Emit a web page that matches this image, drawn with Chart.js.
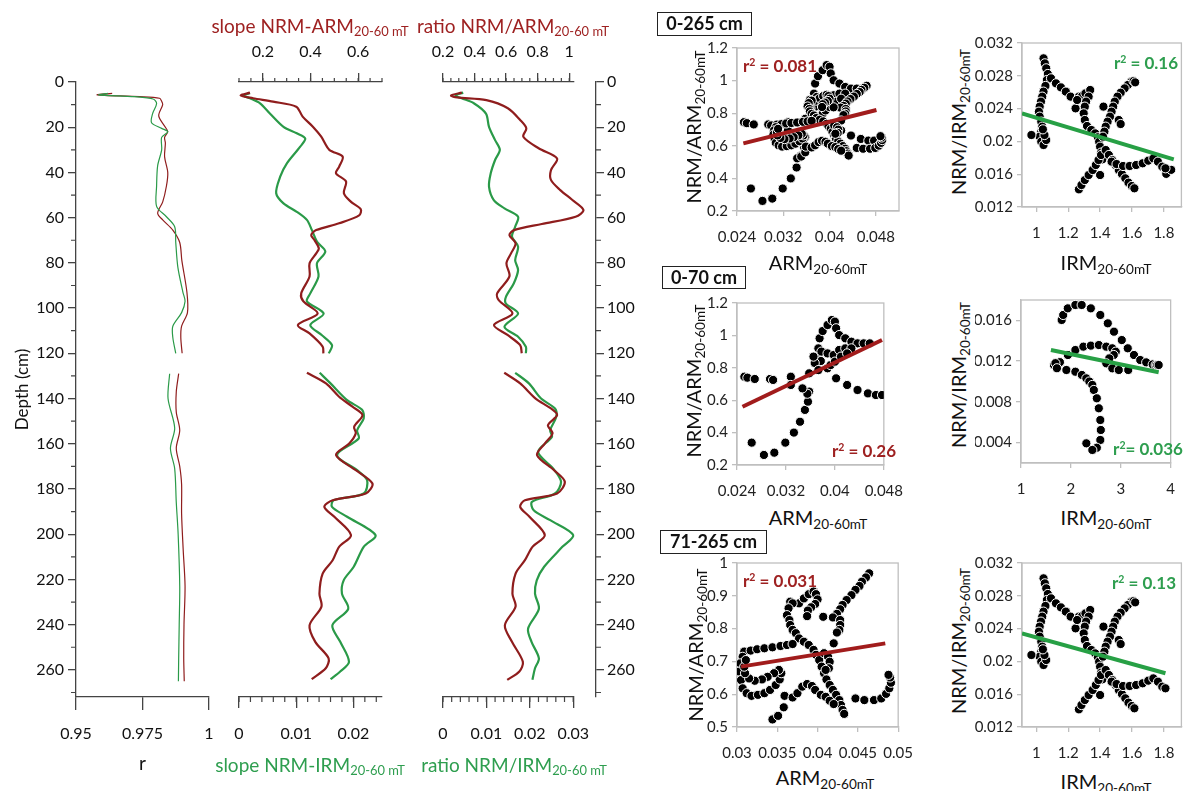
<!DOCTYPE html>
<html>
<head>
<meta charset="utf-8">
<title>NRM/ARM and NRM/IRM profiles</title>
<script src="https://cdn.jsdelivr.net/npm/chart.js@4.4.1/dist/chart.umd.min.js"></script>
<style>
  body { margin: 0; background: #fff; }
  #fig { position: relative; width: 1187px; height: 791px; overflow: hidden;
         font-family: Lato, "Open Sans", sans-serif; color: #111; }
  #fig canvas { position: absolute; }
  .lbl { position: absolute; transform: translate(-50%, -50%); white-space: nowrap; line-height: 1; }
  .lbl.rot { transform: translate(-50%, -50%) rotate(-90deg); }
  .lbl sub { font-size: 0.68em; vertical-align: -0.3em; line-height: 0; }
  .lbl sup { font-size: 0.62em; vertical-align: 0.55em; line-height: 0; }
  .red { color: #9e2121; }
  .green { color: #2e9e4f; }
  .bold { font-weight: bold; }
  .box { position: absolute; border: 1.3px solid #222; font-weight: bold; font-size: 18px;
         text-align: center; box-sizing: border-box; }
</style>
</head>
<body>
<div id="fig"></div>
<script>
// depth profiles, depth in cm (null = break in the core)
const rArmDepth = [5, 5.7, 6.5, 7.2, 8.5, 10, 15, 20, 22, 24.5, 27, 33, 40, 46, 53, 58, 61, 65.5, 71, 79, 93, 102, 108, 113, 120, null, 129, 137, 146, 154, 162, 170, 178, 191, 207, 223, 240, 255, 265];
const rArmVal = [0.9636, 0.958, 0.9739, 0.9814, 0.9822, 0.9826, 0.9811, 0.9836, 0.9845, 0.9833, 0.9836, 0.9833, 0.9845, 0.984, 0.9826, 0.9807, 0.9826, 0.9864, 0.989, 0.9898, 0.9917, 0.9919, 0.9897, 0.9894, 0.9899, null, 0.9886, 0.9877, 0.9877, 0.989, 0.9877, 0.989, 0.9897, 0.9897, 0.9903, 0.991, 0.9906, 0.9905, 0.9907];
const rIrmDepth = [5, 5.7, 6.5, 7.5, 9.5, 14, 18, 20.5, 22, 24.5, 30, 37, 46, 55, 59.6, 64, 71, 82, 93, 97, 102, 108, 113, 120, null, 129, 140, 153, 162, 171, 186, 200, 223, 240, 255, 265];
const rIrmVal = [0.962, 0.9585, 0.972, 0.979, 0.9803, 0.9788, 0.9784, 0.9822, 0.9845, 0.9822, 0.9822, 0.9807, 0.9803, 0.9803, 0.984, 0.9871, 0.9875, 0.9883, 0.9902, 0.991, 0.9897, 0.9864, 0.9864, 0.9875, null, 0.9852, 0.9846, 0.9871, 0.9855, 0.9871, 0.9877, 0.9884, 0.989, 0.9888, 0.9886, 0.9885];

const slopeArmDepth = [4.7, 6, 7.2, 8.7, 10.9, 15.3, 19.8, 24.2, 30, 33, 37.5, 40.4, 44, 49.2, 53, 56.3, 59, 62.5, 65.5, 67.7, 70, 73.6, 75.8, 80.2, 86, 93.5, 97, 102.4, 107.5, 111.2, 117, 120, null, 128.6, 133.3, 139.2, 143.6, 147.3, 152.5, 155.4, 159.9, 165, 171.7, 177.6, 182, 185, 187.9, 192.3, 200.4, 205.6, 211.5, 217.4, 226.3, 232, 240.3, 247.6, 254.9, 259.3, 264.1];
const slopeArmVal = [0.146, 0.107, 0.159, 0.243, 0.34, 0.367, 0.41, 0.445, 0.479, 0.535, 0.52, 0.507, 0.549, 0.54, 0.57, 0.611, 0.604, 0.52, 0.424, 0.403, 0.417, 0.435, 0.424, 0.396, 0.396, 0.361, 0.37, 0.43, 0.347, 0.396, 0.451, 0.454, null, 0.385, 0.465, 0.52, 0.576, 0.618, 0.583, 0.59, 0.5625, 0.507, 0.59, 0.66, 0.632, 0.493, 0.458, 0.5, 0.57, 0.52, 0.493, 0.451, 0.4375, 0.446, 0.396, 0.42, 0.476, 0.464, 0.405];
const slopeIrmDepth = [5, 6, 7.2, 9.4, 14, 19.8, 22.7, 25, 28.6, 36, 41.9, 49.2, 53.7, 57.4, 61, 65.5, 70.6, 75, 80.2, 86, 93.5, 97, 102.4, 107.5, 112, 116.4, 120, null, 128.6, 133.3, 140.7, 145, 148.8, 154, 157.7, 165, 171.7, 176.1, 182, 185, 187.9, 192.3, 200.4, 205.6, 214.4, 220.4, 226.3, 233, 240.3, 247.6, 256.4, 260.7, 264.1];
const slopeIrmVal = [0.00193, 0.0007, 0.00193, 0.00368, 0.00544, 0.00778, 0.0101, 0.01158, 0.0107, 0.00837, 0.0072, 0.0065, 0.00778, 0.0101, 0.01187, 0.01275, 0.01363, 0.01509, 0.01363, 0.0139, 0.01246, 0.01187, 0.0148, 0.01246, 0.0145, 0.01626, 0.0157, null, 0.0141, 0.016, 0.0189, 0.02152, 0.0218, 0.02065, 0.02093, 0.01714, 0.02065, 0.0224, 0.0218, 0.01655, 0.01626, 0.0189, 0.02386, 0.0218, 0.02006, 0.0183, 0.018, 0.0191, 0.01632, 0.0177, 0.01923, 0.0177, 0.016];

const ratioArmDepth = [4.7, 6, 6.8, 8, 11.6, 16.8, 20.5, 24.2, 29.3, 33.8, 39, 43.3, 47.8, 52.2, 56.6, 59.6, 62.8, 65.5, 67.7, 71.4, 75.8, 80.2, 86, 93.5, 96.5, 102.4, 107.5, 112, 116.4, 120, null, 128.6, 133.3, 140, 144.4, 147.3, 151.8, 155.4, 159.9, 165, 171.7, 176.8, 182, 185, 187.9, 192.3, 200.4, 205.6, 211.5, 217.4, 226.3, 232, 240.3, 247.6, 256.4, 260.7, 264.4];
const ratioArmVal = [0.319, 0.251, 0.289, 0.475, 0.611, 0.689, 0.728, 0.709, 0.806, 0.923, 0.884, 0.884, 0.943, 1.02, 1.09, 1.04, 0.826, 0.65, 0.621, 0.66, 0.631, 0.602, 0.621, 0.543, 0.553, 0.64, 0.523, 0.611, 0.689, 0.699, null, 0.588, 0.689, 0.787, 0.884, 0.923, 0.865, 0.894, 0.845, 0.796, 0.904, 0.972, 0.923, 0.719, 0.689, 0.748, 0.845, 0.767, 0.719, 0.66, 0.64, 0.66, 0.592, 0.637, 0.706, 0.684, 0.607];
const ratioIrmDepth = [4.7, 6, 7.2, 9.4, 14, 19.8, 25.7, 30, 34.5, 40.4, 46.3, 52.2, 55.9, 59.6, 64, 68.4, 72.8, 78.8, 83.2, 89.1, 95, 98, 102.4, 108.3, 112.7, 117.1, 120, null, 128.6, 133.3, 140, 144.4, 148.1, 154, 157, 163.6, 171, 176.8, 182, 185.7, 189.4, 193.8, 200.4, 205.6, 214.4, 220.4, 226.3, 233, 241.8, 247.6, 254.9, 259.3, 264.4];
const ratioIrmVal = [0.00465, 0.0029, 0.0043, 0.0071, 0.0099, 0.0106, 0.012, 0.0131, 0.012, 0.011, 0.0106, 0.0117, 0.01416, 0.0173, 0.01663, 0.0159, 0.0173, 0.01663, 0.0173, 0.0163, 0.0145, 0.0145, 0.0173, 0.01416, 0.0173, 0.0191, 0.0191, null, 0.01663, 0.0198, 0.0226, 0.0258, 0.0261, 0.0247, 0.0251, 0.0219, 0.0254, 0.0272, 0.0258, 0.0205, 0.0209, 0.0247, 0.03, 0.0275, 0.0233, 0.0216, 0.0212, 0.0221, 0.0196, 0.0204, 0.0221, 0.0212, 0.0206];

// scatter points [ARM, NRM/ARM] and [IRM, NRM/IRM]
const arm0to70 = [[0.0252,0.745],[0.0257,0.739],[0.0269,0.731],[0.0294,0.731],[0.0299,0.725],[0.0264,0.338],[0.0284,0.262],[0.0301,0.276],[0.0319,0.338],[0.0333,0.400],[0.0343,0.467],[0.0351,0.540],[0.0356,0.591],[0.0358,0.653],[0.0355,0.640],[0.0328,0.745],[0.0328,0.694],[0.0347,0.673],[0.0358,0.766],[0.0370,0.838],[0.0373,0.858],[0.0377,0.842],[0.0367,0.830],[0.0373,0.920],[0.0375,0.982],[0.0380,1.027],[0.0388,1.064],[0.0395,1.095],[0.0400,1.085],[0.0402,1.044],[0.0407,1.002],[0.0417,0.982],[0.0427,0.961],[0.0437,0.951],[0.0447,0.951],[0.0457,0.951],[0.0378,0.900],[0.0388,0.889],[0.0398,0.879],[0.0407,0.910],[0.0417,0.920],[0.0427,0.920],[0.0388,0.797],[0.0393,0.817],[0.0400,0.838],[0.0410,0.869],[0.0420,0.889],[0.0373,0.786],[0.0365,0.869],[0.0402,0.735],[0.0420,0.694],[0.0437,0.663],[0.0454,0.642],[0.0467,0.632],[0.0477,0.632]];
const arm71to265 = [[0.0464,0.9685],[0.0460,0.956],[0.0455,0.943],[0.0452,0.930],[0.0447,0.918],[0.0442,0.902],[0.0436,0.887],[0.0431,0.872],[0.0428,0.859],[0.0424,0.845],[0.0419,0.834],[0.0428,0.826],[0.0428,0.811],[0.0427,0.796],[0.0424,0.788],[0.0420,0.755],[0.0407,0.836],
  [0.0377,0.877],[0.0383,0.892],[0.0389,0.905],[0.0395,0.913],[0.0398,0.905],[0.0400,0.889],[0.0397,0.875],[0.0392,0.865],[0.0388,0.855],[0.0387,0.838],
  [0.0366,0.882],[0.0369,0.877],[0.0364,0.862],[0.0362,0.841],[0.0365,0.826],[0.0366,0.811],[0.0369,0.796],
  [0.0373,0.786],[0.0377,0.770],[0.0383,0.760],[0.0389,0.750],[0.0395,0.735],[0.0398,0.720],[0.0402,0.704],[0.0405,0.684],[0.0408,0.664],[0.0411,0.645],[0.0415,0.628],[0.0419,0.613],[0.0423,0.598],[0.0427,0.582],[0.0429,0.567],[0.0431,0.552],[0.0433,0.540],
  [0.0408,0.725],[0.0413,0.714],[0.0415,0.699],[0.0414,0.679],[0.0410,0.674],
  [0.0309,0.730],[0.0317,0.733],[0.0325,0.737],[0.0334,0.740],[0.0344,0.743],[0.0354,0.747],[0.0362,0.750],[0.0369,0.753],
  [0.0307,0.714],[0.0304,0.694],[0.0303,0.669],[0.0305,0.643],[0.0307,0.618],[0.0312,0.603],[0.0318,0.595],[0.0326,0.598],[0.0334,0.603],[0.0341,0.613],[0.0348,0.628],[0.0353,0.645],[0.0355,0.664],[0.0352,0.674],[0.0346,0.664],[0.0338,0.653],[0.0331,0.645],[0.0322,0.641],[0.0315,0.648],[0.0310,0.664],[0.0309,0.684],[0.0311,0.704],
  [0.0344,0.523],[0.0351,0.534],[0.0358,0.560],
  [0.0359,0.595],[0.0369,0.590],[0.0375,0.603],[0.0381,0.623],[0.0387,0.631],[0.0393,0.625],[0.0397,0.613],[0.0404,0.598],[0.0410,0.592],[0.0415,0.580],[0.0420,0.570],
  [0.0447,0.587],[0.0458,0.582],[0.0470,0.582],[0.0479,0.587],[0.0485,0.601],[0.0489,0.618],[0.0491,0.635],[0.0490,0.651],[0.0488,0.659]];
const irm0to70 = [[1.815,0.01604],[1.846,0.01653],[1.938,0.01718],[2.09,0.01751],[2.216,0.01751],[2.4,0.01718],[2.59,0.01653],[2.74,0.01571],[2.864,0.01489],[3.02,0.01407],[3.14,0.01326],[3.265,0.0126],[3.39,0.01211],[3.51,0.01188],[3.64,0.01168],[3.7,0.01162],[3.73,0.01162],[3.76,0.01162],[1.66,0.01162],[1.78,0.0119],[1.94,0.0126],[2.09,0.01309],[2.25,0.01342],[2.4,0.01352],[2.56,0.01358],[2.71,0.01342],[2.83,0.01326],[2.9,0.01293],[2.86,0.0126],[2.77,0.01227],[2.71,0.01178],[2.83,0.01129],[2.96,0.01113],[3.15,0.01113],[1.69,0.0118],[1.72,0.0113],[1.91,0.01113],[2.09,0.01096],[2.22,0.01064],[2.31,0.01031],[2.37,0.01],[2.43,0.00966],[2.46,0.00917],[2.52,0.00835],[2.56,0.00737],[2.59,0.00622],[2.6,0.00524],[2.59,0.00426],[2.52,0.0035],[2.43,0.00328],[2.31,0.00393]];
const irm71to265 = [[1.045,0.03013],[1.053,0.02952],[1.062,0.02891],[1.072,0.02822],[1.066,0.02749],[1.057,0.02676],[1.045,0.02607],[1.037,0.02546],[1.029,0.02485],[1.021,0.02424],[1.016,0.02363],[1.021,0.02302],[1.031,0.02241],[1.037,0.0218],[1.031,0.02119],[1.021,0.02058],[1.031,0.01997],[1.045,0.01956],[1.062,0.02017],[1.051,0.02078],[1.041,0.02147],[0.969,0.02078],
  [1.092,0.02769],[1.123,0.02708],[1.154,0.02659],[1.185,0.02607],[1.215,0.02546],[1.246,0.02403],
  [1.267,0.02546],[1.287,0.02554],[1.308,0.02586],[1.338,0.02627],[1.328,0.02546],[1.312,0.02485],[1.304,0.02424],[1.297,0.02342],[1.304,0.02261],[1.318,0.02188],[1.345,0.02139],[1.369,0.02098],[1.386,0.0205],[1.394,0.01997],[1.4,0.01936],[1.406,0.01863],[1.414,0.01781],[1.256,0.02505],
  [1.595,0.02728],[1.574,0.02688],[1.554,0.02647],[1.529,0.02594],[1.509,0.02546],[1.492,0.02485],[1.482,0.02424],[1.472,0.02363],[1.462,0.02302],[1.447,0.02241],[1.435,0.0218],[1.427,0.02119],[1.418,0.02058],[1.61,0.02735],[1.62,0.0272],
  [1.517,0.02261],[1.529,0.02212],[1.421,0.02424],
  [1.267,0.01415],[1.283,0.01468],[1.304,0.01529],[1.328,0.0159],[1.353,0.01651],[1.373,0.01712],[1.39,0.01773],[1.406,0.01834],[1.4,0.0159],
  [1.435,0.01895],[1.455,0.01834],[1.476,0.01773],[1.497,0.01712],[1.517,0.01651],[1.537,0.01602],[1.558,0.0155],[1.578,0.01497],[1.599,0.01456],[1.615,0.01428],
  [1.472,0.01753],[1.503,0.01724],[1.544,0.017],[1.585,0.017],[1.626,0.01712],[1.667,0.01733],[1.702,0.01765],[1.734,0.01793],[1.763,0.01753],[1.79,0.01692],[1.81,0.01672]];
const arm0to265 = arm0to70.concat(arm71to265);
const irm0to265 = irm0to70.concat(irm71to265);

// regression lines as drawn (end points)
const fitArm0to265 = [[0.0251, 0.615], [0.0481, 0.82]];
const fitArm0to70 = [[0.0249, 0.56], [0.0477, 0.972]];
const fitArm71to265 = [[0.0305, 0.684], [0.0484, 0.755]];
const fitIrm0to265 = [[0.91, 0.0234], [1.862, 0.01781]];
const fitIrm0to70 = [[1.6, 0.01309], [3.76, 0.0109]];
const fitIrm71to265 = [[0.91, 0.0234], [1.81, 0.01855]];

// tick labels
const depthTicks = [0, 20, 40, 60, 80, 100, 120, 140, 160, 180, 200, 220, 240, 260];
const rTicks = [0.95, 0.975, 1];
const slopeArmTicks = [0.2, 0.4, 0.6];
const slopeIrmTicks = [0, 0.01, 0.02];
const ratioArmTicks = [0.2, 0.4, 0.6, 0.8, 1];
const ratioIrmTicks = [0, 0.01, 0.02, 0.03];
const armTicksA = [0.024, 0.032, 0.04, 0.048];
const armTicksB = [0.03, 0.035, 0.04, 0.045, 0.05];
const nrmArmTicksA = [0.2, 0.4, 0.6, 0.8, 1, 1.2];
const nrmArmTicksB = [0.5, 0.6, 0.7, 0.8, 0.9, 1];
const irmTicksA = [1, 1.2, 1.4, 1.6, 1.8];
const irmTicksB = [1, 2, 3, 4];
const nrmIrmTicksA = [0.012, 0.016, 0.02, 0.024, 0.028, 0.032];
const nrmIrmTicksB = [0.004, 0.008, 0.012, 0.016];

const RED = '#8f1d1d', GREEN = '#2a9a48', AXIS = '#444', FRAME = '#bfbfbf';
const LINE_RED = '#a11c1c', LINE_GREEN = '#27a045';

Chart.defaults.font.family = 'Lato, "Open Sans", sans-serif';
Chart.defaults.color = '#111';

const fig = document.getElementById('fig');
function canvasAt(x0, y0, x1, y1) {
  const c = document.createElement('canvas');
  c.width = x1 - x0; c.height = y1 - y0;
  c.style.left = x0 + 'px'; c.style.top = y0 + 'px';
  c.style.width = (x1 - x0) + 'px'; c.style.height = (y1 - y0) + 'px';
  fig.appendChild(c);
  return c;
}
const fmt = v => String(+Number(v).toFixed(4));
const setTicks = vals => scale => { scale.ticks = vals.map(v => ({ value: v })); };
const fixW = w => scale => { scale.width = w; };
const fixH = h => scale => { scale.height = h; };

// short unlabeled ticks between the labeled ones
function minorTicks(list) {
  return {
    id: 'minorTicks',
    afterDraw(chart) {
      const ctx = chart.ctx;
      ctx.save();
      ctx.strokeStyle = AXIS; ctx.lineWidth = 1.2;
      ctx.beginPath();
      list.forEach(m => {
        const s = chart.scales[m.id];
        const n = Math.round((m.to - m.from) / m.step);
        for (let i = 0; i <= n; i++) {
          const p = s.getPixelForValue(m.from + i * m.step);
          if (s.position === 'top') { ctx.moveTo(p, s.bottom); ctx.lineTo(p, s.bottom - m.len); }
          else if (s.position === 'bottom') { ctx.moveTo(p, s.top); ctx.lineTo(p, s.top + m.len); }
          else if (s.position === 'left') { ctx.moveTo(s.right, p); ctx.lineTo(s.right - m.len, p); }
          else { ctx.moveTo(s.left, p); ctx.lineTo(s.left + m.len, p); }
        }
      });
      ctx.stroke();
      ctx.restore();
    }
  };
}

const plotFrame = {
  id: 'plotFrame',
  beforeDatasetsDraw(chart) {
    const { ctx, chartArea: a } = chart;
    ctx.save();
    ctx.strokeStyle = FRAME; ctx.lineWidth = 1.3;
    ctx.strokeRect(a.left, a.top, a.right - a.left, a.bottom - a.top);
    ctx.restore();
  }
};

function profAxis(position, min, max, tickVals, tickLen, pad, fit) {
  return {
    type: 'linear', position, min, max,
    reverse: position === 'left' || position === 'right',
    afterBuildTicks: setTicks(tickVals),
    afterFit: fit,
    border: { display: true, color: AXIS, width: 1.3 },
    grid: { drawOnChartArea: false, color: AXIS, tickColor: AXIS, tickLength: tickLen, lineWidth: 1.3 },
    ticks: { autoSkip: false, maxRotation: 0, padding: pad, font: { size: 16 }, color: '#111', callback: fmt }
  };
}
const hiddenDepth = { type: 'linear', min: 0, max: 272, reverse: true, display: false };

function profile(depths, vals, color, width, xAxisID) {
  return {
    data: depths.map((d, i) => ({ x: vals[i], y: d })),
    xAxisID, yAxisID: 'y', showLine: true,
    borderColor: color, borderWidth: width,
    pointRadius: 0, tension: 0.3, spanGaps: false, clip: false, capBezierPoints: false
  };
}
const quiet = { legend: { display: false }, tooltip: { enabled: false } };

// r panel with depth axis
new Chart(canvasAt(0, 0, 230, 791), {
  type: 'scatter',
  data: { datasets: [
    profile(rIrmDepth, rIrmVal, GREEN, 1.2, 'x'),
    profile(rArmDepth, rArmVal, RED, 1.2, 'x')
  ] },
  options: {
    responsive: false, animation: false,
    layout: { padding: { left: 0, right: 21, top: 82, bottom: 0 } },
    plugins: quiet,
    scales: {
      x: Object.assign(profAxis('bottom', 0.95, 1, rTicks, 13, 14, fixH(94)),
        { title: { display: true, text: 'r', font: { size: 19 }, color: '#111', padding: { bottom: 16 } } }),
      y: Object.assign(profAxis('left', 0, 272, depthTicks, 8, 4, fixW(76)),
        { title: { display: true, text: 'Depth (cm)', font: { size: 17 }, color: '#111', padding: { top: 12 } } })
    }
  },
  plugins: [minorTicks([{ id: 'y', from: 10, to: 270, step: 20, len: 5 }])]
});

// slope panel
new Chart(canvasAt(200, 0, 420, 791), {
  type: 'scatter',
  data: { datasets: [
    profile(slopeArmDepth, slopeArmVal, RED, 2.2, 'xTop'),
    profile(slopeIrmDepth, slopeIrmVal, GREEN, 2.2, 'xBot')
  ] },
  options: {
    responsive: false, animation: false,
    layout: { padding: { left: 39, right: 38, top: 0, bottom: 0 } },
    plugins: quiet,
    scales: {
      xTop: profAxis('top', 0.1, 0.7, slopeArmTicks, 9, 12, fixH(82)),
      xBot: profAxis('bottom', 0, 0.025, slopeIrmTicks, 11, 16, fixH(94)),
      y: hiddenDepth
    }
  },
  plugins: [minorTicks([
    { id: 'xTop', from: 0.1, to: 0.7, step: 0.05, len: 4 },
    { id: 'xBot', from: 0, to: 0.024, step: 0.002, len: 5 }
  ])]
});

// ratio panel
new Chart(canvasAt(405, 0, 605, 791), {
  type: 'scatter',
  data: { datasets: [
    profile(ratioArmDepth, ratioArmVal, RED, 2.2, 'xTop'),
    profile(ratioIrmDepth, ratioIrmVal, GREEN, 2.2, 'xBot')
  ] },
  options: {
    responsive: false, animation: false,
    layout: { padding: { left: 38, right: 20, top: 0, bottom: 0 } },
    plugins: quiet,
    scales: {
      xTop: profAxis('top', 0.2, 1.025, ratioArmTicks, 9, 12, fixH(82)),
      xBot: profAxis('bottom', 0, 0.03, ratioIrmTicks, 11, 16, fixH(94)),
      y: hiddenDepth
    }
  },
  plugins: [minorTicks([
    { id: 'xTop', from: 0.2, to: 1.0, step: 0.05, len: 4 },
    { id: 'xBot', from: 0, to: 0.03, step: 0.002, len: 5 }
  ])]
});

// right-hand depth axis
new Chart(canvasAt(560, 0, 640, 791), {
  type: 'scatter',
  data: { datasets: [] },
  options: {
    responsive: false, animation: false,
    layout: { padding: { left: 0, right: 0, top: 82, bottom: 94 } },
    plugins: quiet,
    scales: {
      x: { type: 'linear', min: 0, max: 1, display: false },
      y: profAxis('right', 0, 272, depthTicks, 8, 3, fixW(44))
    }
  },
  plugins: [minorTicks([{ id: 'y', from: 10, to: 270, step: 20, len: 5 }])]
});

// scatter panels
function sAxis(position, range, tickVals, fit) {
  return {
    type: 'linear', position, min: range[0], max: range[1],
    afterBuildTicks: setTicks(tickVals), afterFit: fit,
    border: { display: true, color: FRAME, width: 1.3 },
    grid: { drawOnChartArea: false, color: FRAME, tickColor: FRAME, tickLength: 5, lineWidth: 1.3 },
    ticks: { autoSkip: false, maxRotation: 0, padding: position === 'bottom' ? 12 : 4,
             font: { size: 15 }, color: '#222', callback: fmt }
  };
}
function scatterPanel(cv, area, pts, fit, color, xr, yr, xTicks, yTicks) {
  // like the spreadsheet original: markers whose centre falls outside the axes are not drawn
  const inside = c => {
    const p = c.raw;
    return p && p.x >= xr[0] && p.x <= xr[1] && p.y >= yr[0] && p.y <= yr[1] ? 4.6 : 0;
  };
  new Chart(canvasAt(cv[0], cv[1], cv[2], cv[3]), {
    type: 'scatter',
    data: { datasets: [
      { data: fit.map(([x, y]) => ({ x, y })), showLine: true, borderColor: color, borderWidth: 4,
        pointRadius: 0, order: 0 },
      { data: pts.map(([x, y]) => ({ x, y })), pointRadius: inside, pointBackgroundColor: '#000',
        pointBorderColor: '#fff', pointBorderWidth: 1, order: 1 }
    ] },
    options: {
      responsive: false, animation: false,
      layout: { padding: { left: 0, top: area[1] - cv[1], right: cv[2] - area[2], bottom: 0 } },
      plugins: quiet,
      scales: {
        x: sAxis('bottom', xr, xTicks, fixH(cv[3] - area[3])),
        y: sAxis('left', yr, yTicks, fixW(area[0] - cv[0]))
      }
    },
    plugins: [plotFrame]
  });
}

scatterPanel([700, 30, 915, 255], [737, 48, 899, 211], arm0to265, fitArm0to265, LINE_RED,
  [0.024, 0.052], [0.2, 1.2], armTicksA, nrmArmTicksA);
scatterPanel([975, 25, 1187, 250], [1022, 43, 1185, 207], irm0to265, fitIrm0to265, LINE_GREEN,
  [0.91, 1.91], [0.012, 0.032], irmTicksA, nrmIrmTicksA);
scatterPanel([700, 285, 915, 505], [737, 303, 899, 465], arm0to70, fitArm0to70, LINE_RED,
  [0.024, 0.048], [0.2, 1.2], armTicksA, nrmArmTicksA);
scatterPanel([975, 282, 1187, 505], [1021, 300, 1183, 463], irm0to70, fitIrm0to70, LINE_GREEN,
  [1, 4], [0.002, 0.018], irmTicksB, nrmIrmTicksB);
scatterPanel([700, 545, 925, 765], [737, 563, 909, 727], arm71to265, fitArm71to265, LINE_RED,
  [0.03, 0.05], [0.5, 1], armTicksB, nrmArmTicksB);
scatterPanel([975, 545, 1187, 765], [1022, 563, 1185, 727], irm71to265, fitIrm71to265, LINE_GREEN,
  [0.91, 1.91], [0.012, 0.032], irmTicksA, nrmIrmTicksA);

// titles and annotations
const texts = [
  { x: 310, y: 25, size: 19, cls: 'red', html: 'slope NRM-ARM<sub>20-60 mT</sub>' },
  { x: 513, y: 25, size: 19, cls: 'red', html: 'ratio NRM/ARM<sub>20-60 mT</sub>' },
  { x: 310, y: 764, size: 19, cls: 'green', html: 'slope NRM-IRM<sub>20-60 mT</sub>' },
  { x: 514, y: 764, size: 19, cls: 'green', html: 'ratio NRM/IRM<sub>20-60 mT</sub>' },
  { x: 818, y: 262, size: 20, cls: '', html: 'ARM<sub>20-60mT</sub>' },
  { x: 1106, y: 262, size: 20, cls: '', html: 'IRM<sub>20-60mT</sub>' },
  { x: 818, y: 517, size: 20, cls: '', html: 'ARM<sub>20-60mT</sub>' },
  { x: 1106, y: 517, size: 20, cls: '', html: 'IRM<sub>20-60mT</sub>' },
  { x: 825, y: 777, size: 20, cls: '', html: 'ARM<sub>20-60mT</sub>' },
  { x: 1106, y: 781, size: 20, cls: '', html: 'IRM<sub>20-60mT</sub>' },
  { x: 693, y: 127, size: 20, cls: 'rot', html: 'NRM/ARM<sub>20-60mT</sub>' },
  { x: 958, y: 122, size: 20, cls: 'rot', html: 'NRM/IRM<sub>20-60mT</sub>' },
  { x: 693, y: 381, size: 20, cls: 'rot', html: 'NRM/ARM<sub>20-60mT</sub>' },
  { x: 958, y: 375, size: 20, cls: 'rot', html: 'NRM/IRM<sub>20-60mT</sub>' },
  { x: 695, y: 645, size: 20, cls: 'rot', html: 'NRM/ARM<sub>20-60mT</sub>' },
  { x: 958, y: 641, size: 20, cls: 'rot', html: 'NRM/IRM<sub>20-60mT</sub>' },
  { x: 780, y: 65, size: 17, cls: 'red bold', html: 'r<sup>2</sup> = 0.081' },
  { x: 1146, y: 62, size: 17, cls: 'green bold', html: 'r<sup>2</sup> = 0.16' },
  { x: 864, y: 450, size: 17, cls: 'red bold', html: 'r<sup>2</sup> = 0.26' },
  { x: 1148, y: 448, size: 17, cls: 'green bold', html: 'r<sup>2</sup>= 0.036' },
  { x: 780, y: 580, size: 17, cls: 'red bold', html: 'r<sup>2</sup> = 0.031' },
  { x: 1144, y: 582, size: 17, cls: 'green bold', html: 'r<sup>2</sup> = 0.13' }
];
texts.forEach(t => {
  const d = document.createElement('div');
  d.className = 'lbl ' + t.cls;
  d.style.left = t.x + 'px'; d.style.top = t.y + 'px'; d.style.fontSize = t.size + 'px';
  d.innerHTML = t.html;
  fig.appendChild(d);
});

const boxes = [
  { x: 657, y: 12, w: 95, h: 24, text: '0-265 cm' },
  { x: 662, y: 266, w: 84, h: 23, text: '0-70 cm' },
  { x: 660, y: 530, w: 107, h: 24, text: '71-265 cm' }
];
boxes.forEach(b => {
  const d = document.createElement('div');
  d.className = 'box';
  Object.assign(d.style, { left: b.x + 'px', top: b.y + 'px', width: b.w + 'px', height: b.h + 'px',
                           lineHeight: (b.h - 3) + 'px' });
  d.textContent = b.text;
  fig.appendChild(d);
});
</script>
</body>
</html>
